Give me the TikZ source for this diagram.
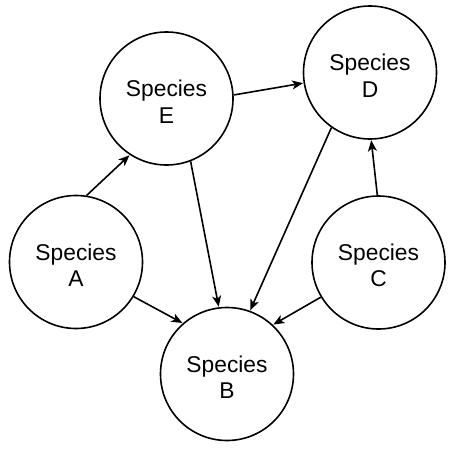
\documentclass[tikz,border=0pt]{standalone}
\usepackage{fontspec}
\setmainfont{Liberation Sans}
\usetikzlibrary{arrows.meta}
\begin{document}
\begin{tikzpicture}[x=1pt,y=-1pt,
  species/.style={circle,draw,line width=1.6pt,minimum size=133pt,inner sep=0pt,
    align=center,font=\fontsize{22.8}{26.5}\selectfont},
  conn/.style={line width=1.6pt,-{Stealth[length=11pt,width=9pt,inset=3pt]},shorten >=0.5pt}]
\useasboundingbox (0,0) rectangle (463,455);
\node[species] (E) at (166.5,98.5) {\rule{0pt}{22.6pt}Species\\E};
\node[species] (D) at (370,72.5) {\rule{0pt}{22.6pt}Species\\D};
\node[species] (A) at (76,262) {\rule{0pt}{22.6pt}Species\\A};
\node[species] (C) at (378.5,262.5) {\rule{0pt}{22.6pt}Species\\C};
\node[species] (B) at (227,374) {\rule{0pt}{22.6pt}Species\\B};
\draw[conn] (A.81) -- (E.237);
\draw[conn] (E.3) -- (D.189);
\draw[conn] (E.291) -- (B.97);
\draw[conn] (D.235) -- (B.70);
\draw[conn] (C.91) -- (D.271);
\draw[conn] (A.-31) -- (B.131);
\draw[conn] (C.211) -- (B.47);
\end{tikzpicture}
\end{document}
